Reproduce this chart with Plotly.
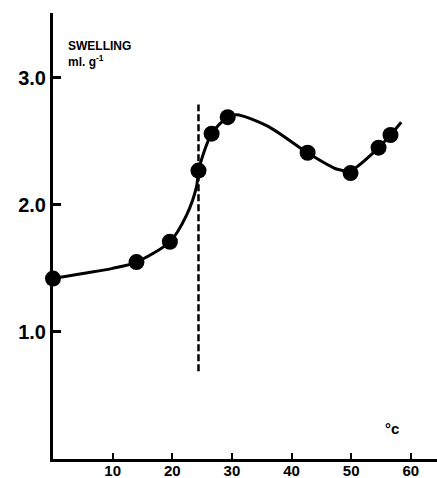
import plotly.graph_objects as go

# measured points (temperature °C, swelling ml/g)
temp_pts = [0.0, 14.0, 19.6, 24.4, 26.6, 29.3, 42.7, 49.9, 54.6, 56.6]
swell_pts = [1.42, 1.55, 1.71, 2.27, 2.56, 2.69, 2.41, 2.25, 2.45, 2.55]

# smooth fitted curve
curve_t = [0.0, 5.0, 10.0, 14.0, 19.6, 22.4, 24.1, 24.4, 26.6, 29.3, 30.8, 36.0, 42.7, 47.7, 49.9, 54.6, 56.6, 58.4]
curve_s = [1.42, 1.46, 1.50, 1.55, 1.71, 1.92, 2.15, 2.27, 2.56, 2.69, 2.71, 2.62, 2.41, 2.28, 2.27, 2.45, 2.55, 2.65]

# transition temperature marker
trans_t = [24.4, 24.4]
trans_s = [0.69, 2.79]

x_ticks = [10, 20, 30, 40, 50, 60]
y_ticks = [1.0, 2.0, 3.0]
y_tick_labels = ["1.0", "2.0", "3.0"]

fig = go.Figure()
fig.add_trace(go.Scatter(x=trans_t, y=trans_s, mode="lines",
                         line=dict(color="black", width=2.5, dash="7px,3px"),
                         hoverinfo="skip"))
fig.add_trace(go.Scatter(x=curve_t, y=curve_s, mode="lines",
                         line=dict(color="black", width=3, shape="spline", smoothing=0.8),
                         hoverinfo="skip"))
fig.add_trace(go.Scatter(x=temp_pts, y=swell_pts, mode="markers",
                         marker=dict(color="black", size=16), cliponaxis=False))

fig.update_layout(
    width=437, height=478,
    margin=dict(l=53, r=0, t=13, b=19, autoexpand=False),
    paper_bgcolor="white", plot_bgcolor="white",
    showlegend=False,
    font=dict(family="Liberation Sans", color="black"),
    xaxis=dict(range=[0, 64.4], tickvals=x_ticks, ticks="inside", ticklen=6, tickwidth=2,
               tickcolor="black", showline=True, linecolor="black", linewidth=3,
               showgrid=False, zeroline=False, automargin=False, ticklabelstandoff=-4,
               tickfont=dict(size=15, weight="bold", family="Liberation Sans")),
    yaxis=dict(range=[0, 3.51], tickvals=y_ticks, ticktext=y_tick_labels, ticks="inside",
               ticklen=8, tickwidth=3, tickcolor="black", showline=True, linecolor="black",
               linewidth=3, showgrid=False, zeroline=False, automargin=False,
               tickfont=dict(size=20, weight="bold", family="Liberation Sans")),
)
# texts placed at pixel positions via paper coords
pw, ph = 437 - 53, 478 - 13 - 19
def px(xp):
    return (xp - 53) / pw
def py(yp):
    return (478 - 19 - yp) / ph
fig.layout.annotations = [
    dict(x=px(66), y=py(46), xref="paper", yref="paper", xanchor="left", yanchor="middle",
         text="<b>SWELLING</b>", showarrow=False, font=dict(size=12)),
    dict(x=px(66), y=py(61), xref="paper", yref="paper", xanchor="left", yanchor="middle",
         text="<b>ml. g<sup>-1</sup></b>", showarrow=False, font=dict(size=12)),
    dict(x=px(383), y=py(428), xref="paper", yref="paper", xanchor="left", yanchor="middle",
         text="<b>°c</b>", showarrow=False, font=dict(size=15)),
]

fig.write_html("out.html", config={"displayModeBar": False},
               post_script="document.body.style.margin='0';")
